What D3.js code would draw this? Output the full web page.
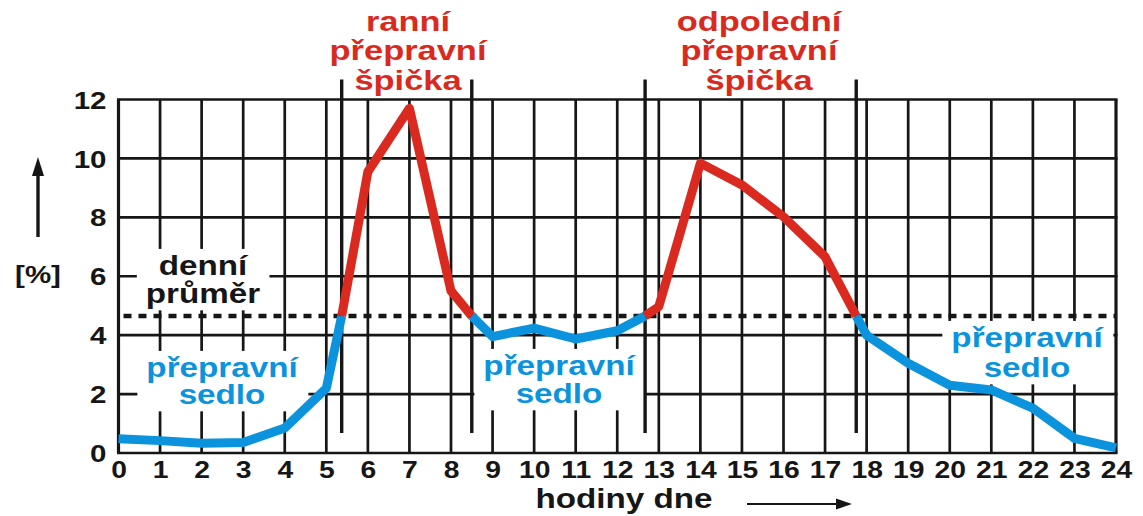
<!DOCTYPE html>
<html>
<head>
<meta charset="utf-8">
<script src="https://cdn.jsdelivr.net/npm/d3@7"></script>
<style>
    body { margin: 0; background: #fff; }
    svg { display: block; }
    text { font-family: "Liberation Sans", Arial, sans-serif; font-weight: bold; }
</style>
</head>
<body>
<svg id="chart" width="1143" height="516"></svg>
<script>
"use strict";

// hourly share of daily traffic
// (5.37, 8.5, 12.67, 17.75 are where the line crosses the daily average)
const hours = [0, 1, 2, 3, 4, 5, 5.37, 6, 7, 8, 8.5, 9, 10, 11, 12, 12.67, 13, 14, 15, 16, 17, 17.75, 18, 19, 20, 21, 22, 23, 24];
const share = [0.48, 0.42, 0.33, 0.36, 0.85, 2.2, 4.65, 9.55, 11.7, 5.5, 4.65, 3.95, 4.24, 3.87, 4.15, 4.65, 4.97, 9.84, 9.1, 8.02, 6.66, 4.65, 4.0, 3.05, 2.3, 2.14, 1.52, 0.5, 0.17];

const hourTicks = [0, 1, 2, 3, 4, 5, 6, 7, 8, 9, 10, 11, 12, 13, 14, 15, 16, 17, 18, 19, 20, 21, 22, 23, 24];
const shareTicks = [0, 2, 4, 6, 8, 10, 12];

const dayAverage = 4.65;
const peakBounds = [5.37, 8.5, 12.67, 17.75];

const morningTitle = ["ranní", "přepravní", "špička"];
const afternoonTitle = ["odpolední", "přepravní", "špička"];
const averageLabel = ["denní", "průměr"];
const saddleLabel = ["přepravní", "sedlo"];
const xTitle = "hodiny dne";
const yTitle = "[%]";

const BLUE = "#0b93dd", RED = "#da2a20", INK = "#161616";
// the lettering in the original is stretched sideways
const STRETCH = 1.23;

const svg = d3.select("#chart");

const x = d3.scaleLinear().domain([0, 24]).range([118.5, 1116]);
const y = d3.scaleLinear().domain([0, 12]).range([453, 99.5]);

const gridLayer = svg.append("g");
const boxLayer = svg.append("g");
const markLayer = svg.append("g");
const textLayer = svg.append("g");

// grid
gridLayer.selectAll("line.v")
    .data(hourTicks)
    .join("line")
    .attr("x1", d => x(d)).attr("x2", d => x(d))
    .attr("y1", y(12)).attr("y2", y(0))
    .attr("stroke", INK)
    .attr("stroke-width", (d, i) => (i === 0 || i === hourTicks.length - 1) ? 3.2 : 2.7);

gridLayer.selectAll("line.h")
    .data(shareTicks)
    .join("line")
    .attr("x1", x(0) - 1.5).attr("x2", x(24) + 1.5)
    .attr("y1", d => y(d)).attr("y2", d => y(d))
    .attr("stroke", INK)
    .attr("stroke-width", 2.7);

// axes (labels only)
const xAxis = svg.append("g")
    .attr("transform", "translate(0," + y(0) + ")")
    .call(d3.axisBottom(x).tickValues(hourTicks).tickSize(0));
xAxis.select(".domain").remove();
xAxis.selectAll("text")
    .attr("y", 25).attr("dy", 0)
    .attr("transform", "scale(" + STRETCH + ",1)")
    .attr("font-size", 23)
    .attr("font-family", null)
    .attr("fill", INK);

const yAxis = svg.append("g")
    .attr("transform", "translate(" + x(0) + ",0)")
    .call(d3.axisLeft(y).tickValues(shareTicks).tickSize(0));
yAxis.select(".domain").remove();
yAxis.selectAll("text")
    .attr("x", -12 / STRETCH).attr("dy", "0.36em")
    .attr("transform", "scale(" + STRETCH + ",1)")
    .attr("font-size", 24)
    .attr("font-family", null)
    .attr("fill", INK);

// stretched multi-line text, returns the group
const stretchedText = (parent, lines, cx, baseline, size, lineGap, color) => {
    const g = parent.append("g");
    lines.forEach((line, i) => {
        g.append("text")
            .attr("transform", "translate(" + cx + "," + (baseline + i * lineGap) + ") scale(" + STRETCH + ",1)")
            .attr("text-anchor", "middle")
            .attr("font-size", size)
            .attr("fill", color)
            .text(line);
    });
    return g;
};

// white patch behind a label so the grid does not run through it
const knockOut = (g) => {
    const b = g.node().getBBox();
    boxLayer.append("rect")
        .attr("x", b.x - 9).attr("y", b.y - 2)
        .attr("width", b.width + 18).attr("height", b.height + 4)
        .attr("fill", "#fff");
};

knockOut(stretchedText(textLayer, averageLabel, 203, 275, 27, 28, INK));
knockOut(stretchedText(textLayer, saddleLabel, 222, 377, 27, 27, BLUE));
knockOut(stretchedText(textLayer, saddleLabel, 559, 375, 27, 28, BLUE));
knockOut(stretchedText(textLayer, saddleLabel, 1027, 347, 27, 30, BLUE));

stretchedText(textLayer, morningTitle, 408, 31, 28, 29.3, RED);
stretchedText(textLayer, afternoonTitle, 759, 31, 28, 29.3, RED);
stretchedText(textLayer, [xTitle], 624, 508, 27, 0, INK);
stretchedText(textLayer, [yTitle], 38, 283, 24, 0, INK);

// daily average
markLayer.append("line")
    .attr("x1", x(0) + 5).attr("x2", x(24))
    .attr("y1", y(dayAverage)).attr("y2", y(dayAverage))
    .attr("stroke", INK)
    .attr("stroke-width", 4.5)
    .attr("stroke-dasharray", "8,7");

// peak boundaries
markLayer.selectAll("line.sep")
    .data(peakBounds)
    .join("line")
    .attr("x1", d => x(d)).attr("x2", d => x(d))
    .attr("y1", y(12) - 20).attr("y2", y(0) - 20)
    .attr("stroke", INK)
    .attr("stroke-width", 3.4);

// the traffic line, blue off-peak and red in the peaks
const points = hours.map((h, i) => ({ h: h, v: share[i] }));
const edges = [0].concat(peakBounds, [24]);
const segments = d3.pairs(edges).map(([a, b], i) => ({
    color: i % 2 ? RED : BLUE,
    pts: points.filter(p => p.h >= a && p.h <= b)
}));

const line = d3.line()
    .x(d => x(d.h))
    .y(d => y(d.v));

markLayer.selectAll("path.seg")
    .data(segments)
    .join("path")
    .attr("fill", "none")
    .attr("stroke", d => d.color)
    .attr("stroke-width", 9)
    .attr("stroke-linejoin", "round")
    .attr("d", d => line(d.pts));

// axis arrows
const arrows = svg.append("g").attr("fill", INK).attr("stroke", INK);
arrows.append("line")
    .attr("x1", 38).attr("x2", 38).attr("y1", 237).attr("y2", 172)
    .attr("stroke-width", 3.4);
arrows.append("path")
    .attr("stroke", "none")
    .attr("d", "M38,157 L44,176 L32,176 Z");
arrows.append("line")
    .attr("x1", 747).attr("x2", 840).attr("y1", 504).attr("y2", 504)
    .attr("stroke-width", 2);
arrows.append("path")
    .attr("stroke", "none")
    .attr("d", "M852,504 L836,498.5 L836,509.5 Z");
</script>
</body>
</html>
